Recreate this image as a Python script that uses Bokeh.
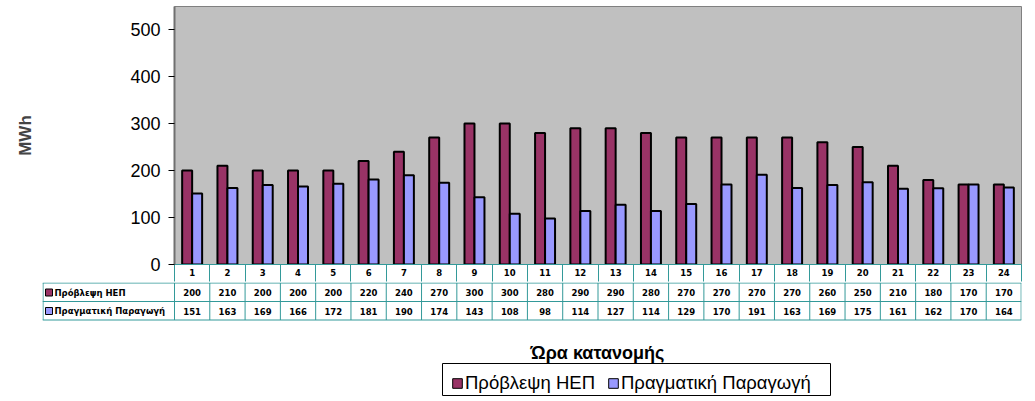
from bokeh.plotting import figure
from bokeh.models import Range1d, Legend, LegendItem, ColumnDataSource, FixedTicker
from bokeh.layouts import column
from bokeh.transform import dodge
from bokeh.core.properties import value
from bokeh.embed import file_html
from bokeh.resources import INLINE

# ---------------- data ----------------
hours = list(range(1, 25))
forecast = [200, 210, 200, 200, 200, 220, 240, 270, 300, 300, 280, 290,
            290, 280, 270, 270, 270, 270, 260, 250, 210, 180, 170, 170]
actual = [151, 163, 169, 166, 172, 181, 190, 174, 143, 108, 98, 114,
          127, 114, 129, 170, 191, 163, 169, 175, 161, 162, 170, 164]
series_names = ["Πρόβλεψη ΗΕΠ", "Πραγματική Παραγωγή"]
y_ticks = [0, 100, 200, 300, 400, 500]
y_label = "MWh"
x_title = "Ώρα κατανομής"

# ---------------- styles ----------------
MAROON = "#993366"
BLUE = "#9999FF"
GRAY = "#C0C0C0"
TEAL = "#339999"
SANS = "Liberation Sans"
TBL = "DejaVu Sans"
TBL_SIZE = "8.5px"

src = ColumnDataSource(dict(hour=hours, forecast=forecast, actual=actual,
                            f_txt=[str(v) for v in forecast],
                            a_txt=[str(v) for v in actual]))

# ---------------- chart ----------------
p = figure(frame_width=847, frame_height=258,
           min_border_left=174, min_border_right=10, min_border_top=6, min_border_bottom=18,
           x_range=Range1d(0.5, 24.5), y_range=Range1d(0, 549),
           toolbar_location=None, output_backend="svg", frame_align=False,
           background_fill_color=GRAY, border_fill_color="white",
           outline_line_color="#808080", outline_line_width=1)
p.grid.visible = False

bw = 0.283
p.vbar(x=dodge("hour", -bw / 2, range=p.x_range), top="forecast", width=bw, bottom=0,
       source=src, fill_color=MAROON, line_color="black", line_width=2)
p.vbar(x=dodge("hour", bw / 2, range=p.x_range), top="actual", width=bw, bottom=0,
       source=src, fill_color=BLUE, line_color="black", line_width=2)

ya = p.yaxis[0]
ya.ticker = FixedTicker(ticks=y_ticks)
ya.axis_label = y_label
ya.axis_label_text_font = SANS
ya.axis_label_text_font_style = "bold"
ya.axis_label_text_font_size = "17px"
ya.axis_label_standoff = 92
ya.major_label_text_font = SANS
ya.major_label_text_font_size = "18px"
ya.major_label_text_color = "black"
ya.major_label_standoff = 8
ya.major_tick_in = 0
ya.major_tick_out = 6
ya.major_tick_line_color = "black"
ya.minor_tick_line_color = None
ya.axis_line_color = "#707070"
ya.axis_line_width = 2

# hour row of the data table = the category axis
xa = p.xaxis[0]
xa.ticker = FixedTicker(ticks=hours, minor_ticks=[0.5] + [h + 0.5 for h in hours])
xa.major_label_text_font = TBL
xa.major_label_text_font_style = "bold"
xa.major_label_text_font_size = TBL_SIZE
xa.major_label_text_color = "black"
xa.major_tick_line_color = None
xa.major_tick_out = 17
xa.major_tick_in = 0
xa.major_label_standoff = -13
xa.minor_tick_line_color = TEAL
xa.minor_tick_out = 17
xa.minor_tick_in = 0
xa.axis_line_color = TEAL
xa.axis_line_width = 1

# ---------------- data table + legend ----------------
unit = 847 / 24.0
left_x = 0.5 - 132 / unit
t = figure(frame_width=979, frame_height=114,
           min_border_left=42, min_border_right=10, min_border_top=0, min_border_bottom=0,
           x_range=Range1d(left_x, 24.5), y_range=Range1d(114, 0),
           x_axis_location=None, y_axis_location=None, frame_align=False,
           toolbar_location=None, output_backend="svg",
           background_fill_color="white", border_fill_color="white",
           outline_line_color=None)
t.grid.visible = False

row_lines = [0.5, 19, 37.5]
row_mid = [10, 28.5]
# horizontal borders
t.segment(x0=[left_x] * 3, x1=[24.5] * 3, y0=row_lines, y1=row_lines,
          line_color=TEAL, line_width=1)
# vertical borders
vx = [left_x + 0.015] + [0.5] + [h + 0.5 for h in hours[:-1]] + [24.49]
t.segment(x0=vx, x1=vx, y0=[row_lines[0]] * len(vx), y1=[row_lines[2]] * len(vx),
          line_color=TEAL, line_width=1)

t.text(x="hour", y=row_mid[0], text="f_txt", source=src, text_font=value(TBL),
       text_font_style="bold", text_font_size=TBL_SIZE, text_align="center",
       text_baseline="middle", text_color="black")
t.text(x="hour", y=row_mid[1], text="a_txt", source=src, text_font=value(TBL),
       text_font_style="bold", text_font_size=TBL_SIZE, text_align="center",
       text_baseline="middle", text_color="black")

sq_x = left_x + 6.5 / unit
r_f = t.rect(x=[sq_x], y=[row_mid[0]], width=7, height=7, width_units="screen",
             height_units="screen", fill_color=MAROON, line_color="black", line_width=1)
r_a = t.rect(x=[sq_x], y=[row_mid[1]], width=7, height=7, width_units="screen",
             height_units="screen", fill_color=BLUE, line_color="black", line_width=1)
t.text(x=[left_x + 12 / unit] * 2, y=row_mid, text=series_names, text_font=value(TBL),
       text_font_style="bold", text_font_size=TBL_SIZE, text_align="left",
       text_baseline="middle", text_color="black")

# axis title
t.text(x=[0.5 + (597 - 174) / unit], y=[70], text=[x_title], text_font=value(SANS),
       text_font_style="bold", text_font_size="18px", text_align="center",
       text_baseline="middle", text_color="black")

# legend frame (drawn as a box behind the legend entries)
t.quad(left=[left_x + 400 / unit], right=[left_x + 788 / unit], top=[81], bottom=[113],
       fill_color="white", line_color="black", line_width=1)

legend = Legend(items=[LegendItem(label=series_names[0], renderers=[r_f]),
                       LegendItem(label=series_names[1], renderers=[r_a])],
                orientation="horizontal", location=(409, 2), margin=0, padding=5,
                spacing=12, glyph_width=12, glyph_height=12, label_standoff=2,
                label_height=20, label_text_font=SANS, label_text_font_size="18.5px",
                label_text_color="black",
                background_fill_alpha=0, border_line_color=None)
t.add_layout(legend, "center")

layout = column(p, t, spacing=0)
open("out.html", "w").write(file_html(layout, INLINE))
